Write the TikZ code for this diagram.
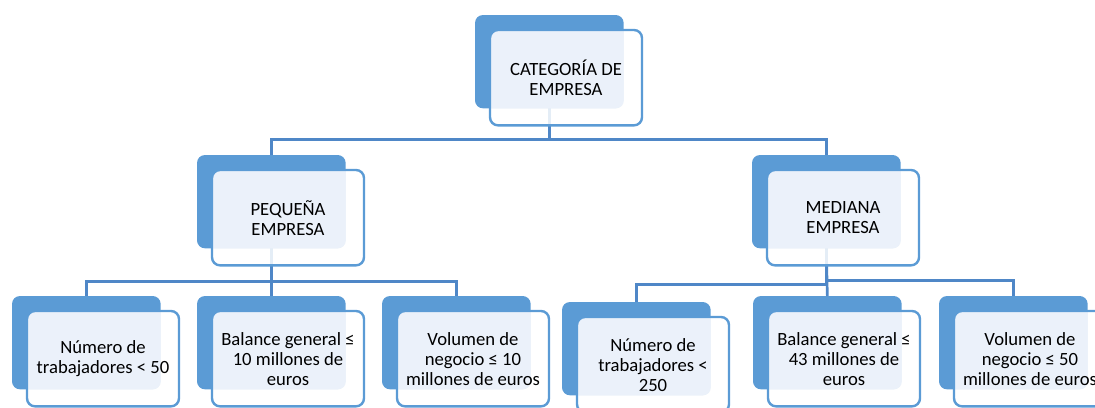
\documentclass[tikz,border=0pt]{standalone}
\usepackage{fontspec}
\setmainfont{Carlito}
\usepackage{xcolor}
\definecolor{caja}{RGB}{91,155,213}
\definecolor{claro}{RGB}{235,241,250}
\definecolor{linea}{RGB}{79,135,199}

\tikzset{frente/.style={draw=caja, line width=1.8pt, fill=white, fill opacity=0.85, text opacity=1,
  rounded corners=6pt, minimum width=114pt, minimum height=71.5pt, inner sep=0pt, outer sep=0pt,
  anchor=north west, align=center,
  path picture={\fill[claro, fill opacity=1, rounded corners=6pt] (#1-b.south west) rectangle (#1-b.north east);}}}

\begin{document}
\begin{tikzpicture}[x=0.75pt,y=-0.75pt]
\tikzstyle{every node}=[font=\fontsize{14}{15}\selectfont]
\tikzstyle{fondo}=[fill=caja, rounded corners=6pt, minimum width=111.5pt, minimum height=70pt, inner sep=0pt, outer sep=0pt, anchor=north west]
\tikzstyle{conector}=[draw=linea, line width=2pt]
\useasboundingbox (0,0) rectangle (1095,407);
    \node[fondo] (cat-b) at (475,15) {};
    \node[fondo] (peq-b) at (197,155) {};
    \node[fondo] (med-b) at (752,155) {};
    \node[fondo] (pt-b) at (12,296) {};
    \node[fondo] (pb-b) at (197,296) {};
    \node[fondo] (pv-b) at (382,296) {};
    \node[fondo] (mt-b) at (562,302) {};
    \node[fondo] (mb-b) at (753,296) {};
    \node[fondo] (mv-b) at (939,296) {};

    \draw[conector] (cat-b.south) -- ++(0,31) -| (peq-b.north);
    \draw[conector] (cat-b.south) -- ++(0,31) -| (med-b.north);
    \draw[conector] (peq-b.south) -- ++(0,33) -| (pt-b.north);
    \draw[conector] (peq-b.south) -- (pb-b.north);
    \draw[conector] (peq-b.south) -- ++(0,33) -| (pv-b.north);
    \draw[conector] (med-b.south) -- ++(0,36) -| (mt-b.north);
    \draw[conector] (med-b.south) -- (mb-b.north);
    \draw[conector] (med-b.south) -- ++(0,32) -| (mv-b.north);

    \node[frente=cat] (cat) at (490,30) {CATEGORÍA DE\\EMPRESA};
    \node[frente=peq] (peq) at (212,170) {PEQUEÑA\\EMPRESA};
    \node[frente=med] (med) at (767,170) {MEDIANA\\EMPRESA};
    \node[frente=pt] (pt) at (27,311) {Número de\\trabajadores < 50};
    \node[frente=pb] (pb) at (212,311) {Balance general ≤\\10 millones de\\euros};
    \node[frente=pv] (pv) at (397,311) {Volumen de\\negocio ≤ 10\\millones de euros};
    \node[frente=mt] (mt) at (577,317) {Número de\\trabajadores <\\250};
    \node[frente=mb] (mb) at (768,311) {Balance general ≤\\43 millones de\\euros};
    \node[frente=mv] (mv) at (954,311) {Volumen de\\negocio ≤ 50\\millones de euros};
\end{tikzpicture}
\end{document}
